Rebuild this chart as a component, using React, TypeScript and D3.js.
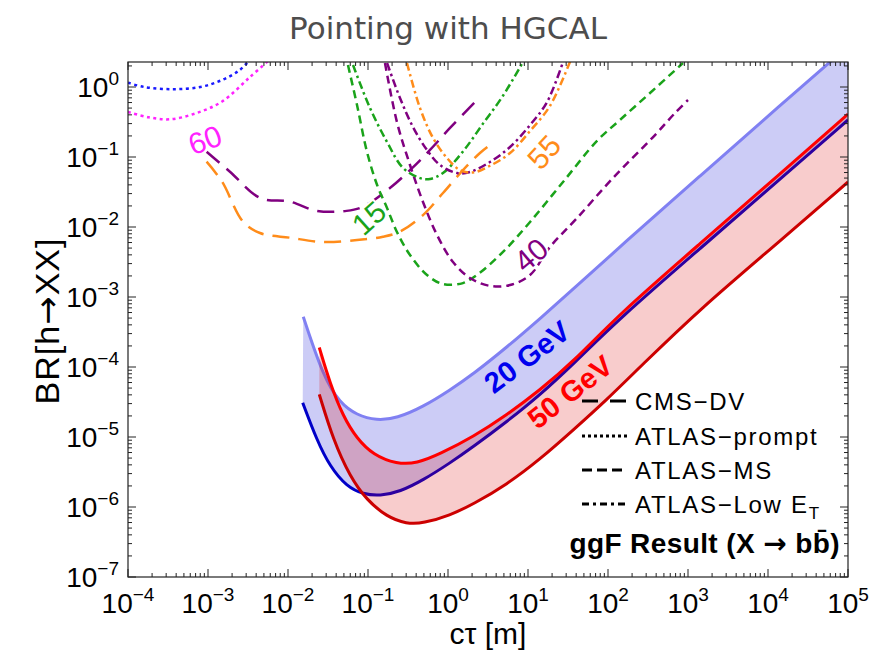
import React from 'react';
import * as d3 from 'd3';

type Pt = [number, number];

// ---------- axes ----------
const xTickExps = [-4, -3, -2, -1, 0, 1, 2, 3, 4, 5];
const yTickExps = [-7, -6, -5, -4, -3, -2, -1, 0];
const xDomain: [number, number] = [1e-4, 1e5];
const yDomain: [number, number] = [1e-7, 2.276];

// ---------- experimental limits (cτ [m], BR) ----------
const promptBlue: Pt[] = [[1e-4, 1.15], [1.6e-4, 1.0], [3.6e-4, 0.93], [8e-4, 1.0], [1.5e-3, 1.26], [2.5e-3, 1.75], [3.5e-3, 2.6]];
const promptMagenta: Pt[] = [[1e-4, 0.44], [1.8e-4, 0.37], [3.3e-4, 0.345], [7e-4, 0.42], [1.5e-3, 0.62], [3.35e-3, 1.39], [6e-3, 2.5]];
const cmsPurple: Pt[] = [[9.6e-4, 0.119], [1.88e-3, 0.0616], [4.47e-3, 0.026], [0.0106, 0.023], [0.0229, 0.017], [0.054, 0.017], [0.0866, 0.0195], [0.188, 0.036], [0.335, 0.065], [0.596, 0.126], [1.06, 0.26], [2.3, 0.65]];
const cmsOrange: Pt[] = [[9.6e-4, 0.0857], [1.5e-3, 0.0444], [2.74e-3, 0.0119], [4.47e-3, 0.0082], [0.0106, 0.00703], [0.0274, 0.0061], [0.0729, 0.0065], [0.154, 0.00726], [0.251, 0.0086], [0.487, 0.0148], [0.866, 0.0306], [1.54, 0.065], [2.51, 0.114], [3.35, 0.148]];
const msGreen: Pt[] = [[0.0562, 2.06], [0.0729, 0.553], [0.0972, 0.118], [0.13, 0.0398], [0.173, 0.0187], [0.23, 0.0085], [0.335, 0.00398], [0.546, 0.00206], [0.866, 0.00153], [1.54, 0.00158], [2.3, 0.00206], [4.87, 0.0044], [10.6, 0.0118], [27.4, 0.044], [72.9, 0.17], [141, 0.338], [335, 0.82], [866, 2.2]];
const msPurple: Pt[] = [[0.163, 2.2], [0.23, 0.316], [0.335, 0.0769], [0.487, 0.0228], [0.729, 0.0077], [1.155, 0.00316], [1.88, 0.00187], [3.35, 0.00144], [5.96, 0.00148], [10.6, 0.00206], [18.8, 0.00518], [41, 0.0134], [115, 0.05], [387, 0.206], [688, 0.425], [1000, 0.652]];
const lowGreen: Pt[] = [[0.065, 2.06], [0.106, 0.5], [0.173, 0.164], [0.274, 0.0697], [0.447, 0.05], [0.596, 0.0485], [0.866, 0.059], [1.54, 0.12], [2.74, 0.3], [4.87, 0.75], [8.5, 2.2]];
const lowPurple: Pt[] = [[0.173, 2.2], [0.251, 0.697], [0.365, 0.268], [0.546, 0.126], [0.794, 0.0769], [1.3, 0.059], [1.88, 0.061], [3.35, 0.0849], [5.96, 0.139], [10.6, 0.286], [17.3, 0.61], [27.4, 2.28]];
const lowOrange: Pt[] = [[0.307, 2.2], [0.447, 0.5], [0.65, 0.187], [0.97, 0.0968], [1.41, 0.065], [2.05, 0.06], [3.35, 0.075], [5.96, 0.114], [10.6, 0.235], [18.8, 0.535], [33.5, 2.3]];

// ---------- HGCAL pointing bands ----------
const gev20Upper: Pt[] = [[0.01552, 5.23e-4], [0.0276, 7.27e-5], [0.0447, 3.03e-5], [0.0722, 2.06e-5], [0.128, 1.71e-5], [0.229, 1.85e-5], [0.491, 2.71e-5], [1.06, 4.68e-5], [2.07, 7.94e-5], [5.42, 1.91e-4], [14.1, 4.9e-4], [44.7, 1.58e-3], [141, 5.23e-3], [1413, 0.0536], [1.41e4, 0.544], [1e5, 3.8]];
const gev20Lower: Pt[] = [[0.01527, 3.09e-5], [0.0229, 9.06e-6], [0.0335, 3.77e-6], [0.0542, 1.95e-6], [0.0874, 1.52e-6], [0.141, 1.44e-6], [0.251, 1.65e-6], [0.491, 2.43e-6], [1.06, 4.25e-6], [2.07, 7.27e-6], [5.42, 1.65e-5], [14.1, 3.98e-5], [36.8, 1.1e-4], [141, 5.0e-4], [1413, 4.9e-3], [1.41e4, 0.0485], [1e5, 0.338]];
const gev50Upper: Pt[] = [[0.0246, 1.9e-4], [0.0335, 5.85e-5], [0.0491, 1.95e-5], [0.0722, 9.58e-6], [0.1165, 5.53e-6], [0.229, 4.11e-6], [0.406, 4.18e-6], [0.794, 5.72e-6], [2.07, 1.01e-5], [5.42, 2.06e-5], [14.1, 4.69e-5], [36.8, 1.19e-4], [141, 5.85e-4], [1413, 5.77e-3], [1.41e4, 0.057], [1e5, 0.411]];
const gev50Lower: Pt[] = [[0.0246, 4.07e-5], [0.0368, 9.06e-6], [0.0596, 2.71e-6], [0.0964, 1.26e-6], [0.171, 7.27e-7], [0.305, 5.72e-7], [0.491, 5.85e-7], [1.06, 7.6e-7], [2.07, 1.1e-6], [5.42, 2.09e-6], [14.1, 4.79e-6], [36.8, 1.26e-5], [96.4, 3.4e-5], [251, 1.0e-4], [1413, 6.76e-4], [1.41e4, 6.29e-3], [1e5, 0.044]];

const contourCurves = [
  { data: promptBlue, color: '#1a1aff', dash: '3,3.5' },
  { data: promptMagenta, color: '#ff22ff', dash: '3,3.5' },
  { data: cmsPurple, color: '#800080', dash: '17,9' },
  { data: cmsOrange, color: '#ff8c1a', dash: '17,9' },
  { data: msGreen, color: '#1aa31a', dash: '8,5' },
  { data: msPurple, color: '#800080', dash: '8,5' },
  { data: lowGreen, color: '#1aa31a', dash: '8,3.5,2.5,3.5' },
  { data: lowPurple, color: '#800080', dash: '8,3.5,2.5,3.5' },
  { data: lowOrange, color: '#ff8c1a', dash: '8,3.5,2.5,3.5' },
];

const contourLabels = [
  { text: '60', color: '#ff22ff', x: 205, y: 140, rot: -20 },
  { text: '15', color: '#1aa31a', x: 369, y: 218, rot: -42 },
  { text: '55', color: '#ff8c1a', x: 544, y: 152, rot: -48 },
  { text: '40', color: '#800080', x: 531, y: 255, rot: -40 },
];

const legendItems = [
  { label: 'CMS−DV', dash: '16,12' },
  { label: 'ATLAS−prompt', dash: '3,3' },
  { label: 'ATLAS−MS', dash: '10,5' },
  { label: 'ATLAS−Low E', sub: 'T', dash: '7,4,3,4' },
];

const L = 128, R = 848, T = 62, B = 577;
const tickFont = "'Liberation Sans Narrow', 'Liberation Sans', Arial, sans-serif";
const sans = "'Liberation Sans', Arial, sans-serif";
const arrowFont = "'DejaVu Sans', sans-serif";

export default function App() {
  const x = d3.scaleLog().domain(xDomain).range([L, R]);
  const y = d3.scaleLog().domain(yDomain).range([B, T]);
  const line = d3.line<Pt>().x(d => x(d[0])).y(d => y(d[1])).curve(d3.curveCatmullRom.alpha(0.5));
  const smooth = d3.line<Pt>().x(d => x(d[0])).y(d => y(d[1])).curve(d3.curveBasis);
  const band = (up: Pt[], lo: Pt[]) => (smooth(up) || '') + (smooth(lo.slice().reverse()) || '').replace(/^M/, 'L') + 'Z';

  const xMinor: number[] = [];
  for (let e = -4; e < 5; e++) for (let k = 2; k <= 9; k++) xMinor.push(k * Math.pow(10, e));
  const yMinor: number[] = [];
  for (let e = -7; e <= 0; e++) for (let k = 2; k <= 9; k++) { const v = k * Math.pow(10, e); if (v < yDomain[1]) yMinor.push(v); }

  const major = 8, minor = 4;
  const sup = (e: number) => (e < 0 ? '−' + Math.abs(e) : String(e));

  return (
    <svg width={880} height={656} style={{ position: 'absolute', left: 0, top: 0, background: '#fff' }}>
      <defs>
        <clipPath id="plotClip"><rect x={L} y={T} width={R - L} height={B - T} /></clipPath>
      </defs>
      <rect x={0} y={0} width={880} height={656} fill="#fff" />
      <text x={448} y={39} textAnchor="middle" fontFamily="'DejaVu Sans', sans-serif" fontSize={31} fill="#4d4d4d">Pointing with HGCAL</text>

      <g clipPath="url(#plotClip)">
        {contourCurves.map((c, i) => (
          <path key={i} d={line(c.data) || ''} fill="none" stroke={c.color} strokeWidth={2.5} strokeDasharray={c.dash} />
        ))}
        <path d={band(gev20Upper, gev20Lower)} fill="rgb(0,0,210)" fillOpacity={0.2} stroke="none" />
        <path d={smooth(gev20Upper) || ''} fill="none" stroke="#8080f2" strokeWidth={3} />
        <path d={smooth(gev20Lower) || ''} fill="none" stroke="#0000c8" strokeWidth={3} />
        <path d={band(gev50Upper, gev50Lower)} fill="rgb(220,0,0)" fillOpacity={0.2} stroke="none" />
        <path d={smooth(gev50Upper) || ''} fill="none" stroke="#ff0000" strokeWidth={3} />
        <path d={smooth(gev50Lower) || ''} fill="none" stroke="#cc0000" strokeWidth={3} />
      </g>

      {contourLabels.map((l, i) => (
        <text key={i} x={l.x} y={l.y} transform={`rotate(${l.rot},${l.x},${l.y})`} textAnchor="middle" dominantBaseline="central"
          fontFamily={sans} fontSize={30} fill={l.color} stroke="#fff" strokeWidth={4} paintOrder="stroke">{l.text}</text>
      ))}
      <text x={527} y={357} transform="rotate(-37,527,357)" textAnchor="middle" dominantBaseline="central" fontFamily={sans} fontWeight="bold" fontSize={29} fill="#0000ee">20 GeV</text>
      <text x={570} y={392} transform="rotate(-38,570,392)" textAnchor="middle" dominantBaseline="central" fontFamily={sans} fontWeight="bold" fontSize={29} fill="#ff0000">50 GeV</text>

      {/* frame */}
      <rect x={L} y={T} width={R - L} height={B - T} fill="none" stroke="#222" strokeWidth={1.2} />
      {xTickExps.map(e => {
        const px = x(Math.pow(10, e));
        return (
          <g key={'xt' + e}>
            <line x1={px} x2={px} y1={B} y2={B - major} stroke="#222" />
            <line x1={px} x2={px} y1={T} y2={T + major} stroke="#222" />
            <text x={px} y={613} textAnchor="middle" fontFamily={tickFont} fontSize={28} fill="#000">
              10<tspan dy={-12} fontSize={19}>{sup(e)}</tspan>
            </text>
          </g>
        );
      })}
      {xMinor.map((v, i) => {
        const px = x(v);
        return (
          <g key={'xm' + i}>
            <line x1={px} x2={px} y1={B} y2={B - minor} stroke="#222" />
            <line x1={px} x2={px} y1={T} y2={T + minor} stroke="#222" />
          </g>
        );
      })}
      {yTickExps.map(e => {
        const py = y(Math.pow(10, e));
        return (
          <g key={'yt' + e}>
            <line x1={L} x2={L + major} y1={py} y2={py} stroke="#222" />
            <line x1={R} x2={R - major} y1={py} y2={py} stroke="#222" />
            <text x={119} y={py + 10} textAnchor="end" fontFamily={tickFont} fontSize={28} fill="#000">
              10<tspan dy={-12} fontSize={19}>{sup(e)}</tspan>
            </text>
          </g>
        );
      })}
      {yMinor.map((v, i) => {
        const py = y(v);
        return (
          <g key={'ym' + i}>
            <line x1={L} x2={L + minor} y1={py} y2={py} stroke="#222" />
            <line x1={R} x2={R - minor} y1={py} y2={py} stroke="#222" />
          </g>
        );
      })}

      <text x={488} y={644} textAnchor="middle" fontFamily={sans} fontSize={30} fill="#000">cτ [m]</text>
      <text x={0} y={0} transform="translate(59,321) rotate(-90)" textAnchor="middle" fontFamily={sans} fontSize={34} letterSpacing={1} fill="#000">
        BR[h<tspan fontFamily={arrowFont}>→</tspan>XX]
      </text>

      {/* legend */}
      {legendItems.map((it, i) => {
        const cy = [401, 436, 470, 504][i];
        return (
          <g key={'lg' + i}>
            <line x1={582} x2={627} y1={cy} y2={cy} stroke="#000" strokeWidth={3} strokeDasharray={it.dash} />
            <text x={635} y={cy + 9} fontFamily={sans} fontSize={24} letterSpacing={1.7} fill="#000">
              {it.label}{it.sub ? <tspan dy={6} fontSize={17}>{it.sub}</tspan> : null}
            </text>
          </g>
        );
      })}
      <text x={840} y={553} textAnchor="end" fontFamily={sans} fontWeight="bold" fontSize={28} letterSpacing={0.4} fill="#000">
        ggF Result (X <tspan fontFamily={arrowFont} fontWeight="bold">→</tspan> bb̄)
      </text>
    </svg>
  );
}
